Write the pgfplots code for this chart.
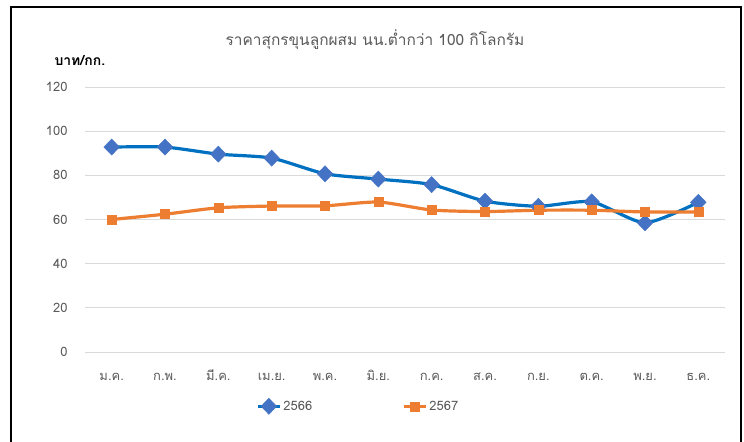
\documentclass[border=0pt]{standalone}
\usepackage{pgfplots}
\pgfplotsset{compat=1.18}
\usepackage{fontspec}
\setmainfont{Loma}[Script=Thai]
\definecolor{blueline}{HTML}{0070C0}
\definecolor{bluemark}{HTML}{4472C4}
\definecolor{orangeline}{HTML}{ED7D31}
\definecolor{gridgrey}{HTML}{D9D9D9}
\definecolor{textgrey}{HTML}{595959}
\begin{document}
\begin{tikzpicture}
\useasboundingbox (0,0) rectangle (744bp,442bp);
\draw[line width=2bp] (11bp,-2bp) -- (11bp,435bp) -- (741bp,435bp) -- (741bp,-2bp);
\node[text=textgrey,font=\fontsize{15.5}{18}\selectfont] at (375bp,402bp) {ราคาสุกรขุนลูกผสม นน.ต่ำกว่า 100 กิโลกรัม};
\node[anchor=west,font=\fontsize{14}{16}\selectfont\bfseries] at (51bp,381bp) {บาท/กก.};
\begin{axis}[
    at={(85bp,90bp)}, anchor=south west,
    scale only axis,
    width=640bp, height=265bp,
    xmin=-0.5, xmax=11.5,
    ymin=0, ymax=120,
    ytick={0,20,...,120},
    xtick={0,1,...,11},
    xticklabels={ม.ค.,ก.พ.,มี.ค.,เม.ย.,พ.ค.,มิ.ย.,ก.ค.,ส.ค.,ก.ย.,ต.ค.,พ.ย.,ธ.ค.},
    axis line style={draw=none},
    tick style={draw=none},
    ymajorgrids,
    grid style={gridgrey,line width=0.8bp},
    /pgf/number format/assume math mode=true,
    ticklabel style={text=textgrey,font=\fontsize{13}{15}\selectfont},
    yticklabel style={xshift=-14bp},
    xticklabel style={anchor=base,yshift=-28bp},
    legend columns=2,
    legend style={draw=none,fill=none,at={(0.427,-0.205)},anchor=center,
        font=\fontsize{13}{15}\selectfont,text=textgrey,
        /tikz/every even column/.append style={column sep=88bp}},
    legend image code/.code={
        \draw[mark repeat=2,mark phase=2,#1] plot coordinates {(0,0) (11bp,0) (22bp,0)};},
]
\addplot[blueline,line width=3.2bp,smooth,tension=0.4,
    mark=diamond*,mark size=8bp,mark options={fill=bluemark,draw=bluemark,line width=0.5bp,xscale=1.3}]
    coordinates {(0,92.8) (1,92.8) (2,89.6) (3,87.8) (4,80.7) (5,78.3)
                 (6,75.8) (7,68.3) (8,66.0) (9,68.0) (10,58.5) (11,67.8)};
\addlegendentry{2566}
\addplot[orangeline,line width=3.2bp,smooth,tension=0.4,
    mark=square*,mark size=4.5bp,mark options={fill=orangeline,draw=orangeline,line width=0.5bp}]
    coordinates {(0,60.0) (1,62.4) (2,65.3) (3,66.1) (4,66.2) (5,67.9)
                 (6,64.3) (7,63.6) (8,64.2) (9,64.2) (10,63.4) (11,63.4)};
\addlegendentry{2567}
\end{axis}
\end{tikzpicture}
\end{document}
